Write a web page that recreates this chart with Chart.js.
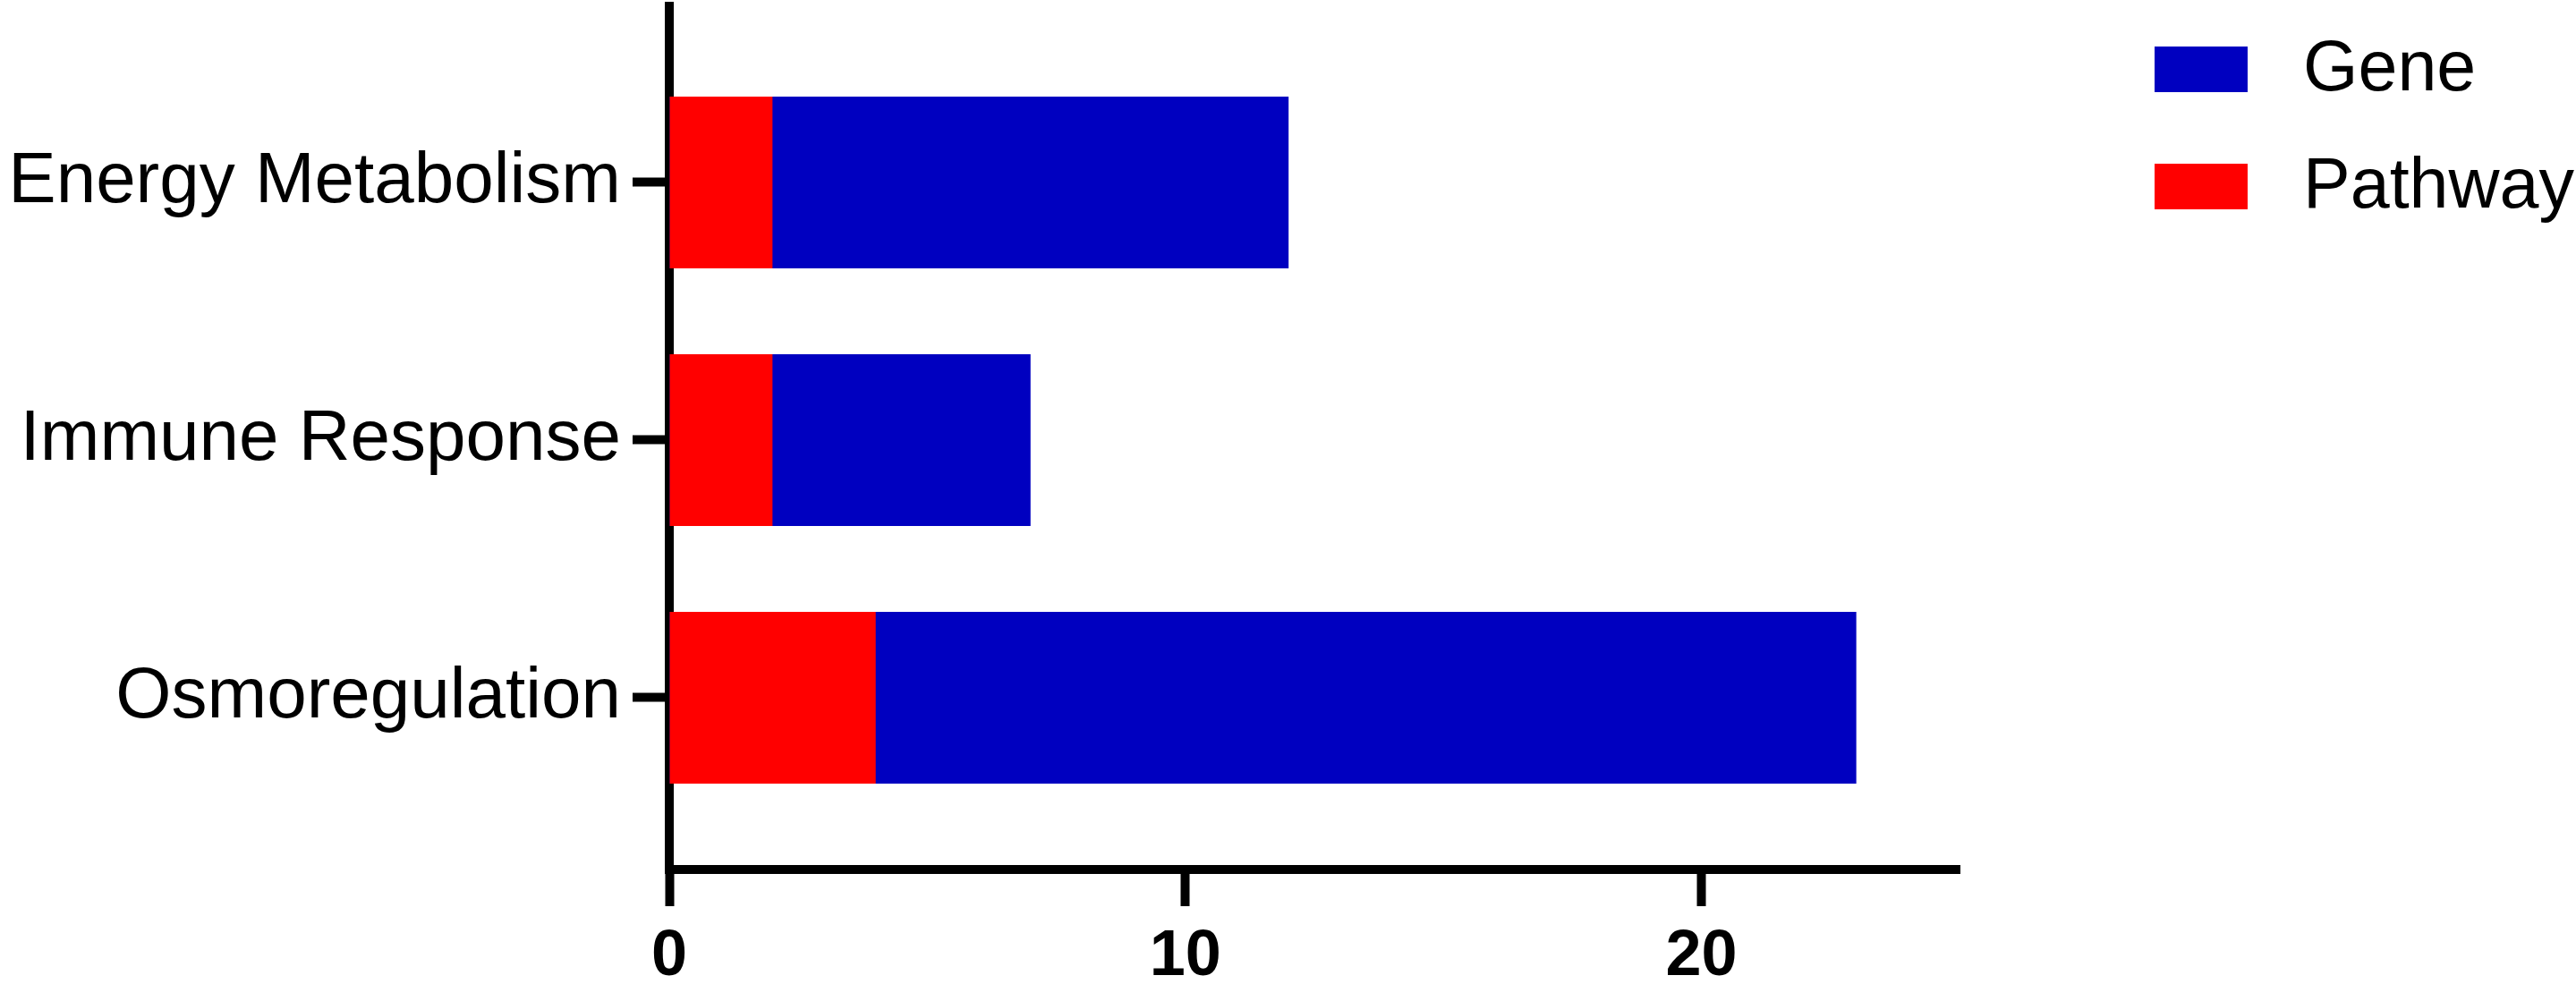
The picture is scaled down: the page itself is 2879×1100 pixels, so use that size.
<!DOCTYPE html>
<html>
<head>
<meta charset="utf-8">
<title>Gene / Pathway counts</title>
<script src="https://cdn.jsdelivr.net/npm/chart.js@4/dist/chart.umd.min.js"></script>
<style>
    html, body { margin: 0; padding: 0; background: #fff; }
    #chart-wrap { width: 2879px; height: 1100px; }
</style>
</head>
<body>
<div id="chart-wrap">
    <canvas id="mainChart" width="2879" height="1100"></canvas>
</div>
<script>
// values (top to bottom)
const categories = ['Energy Metabolism', 'Immune Response', 'Osmoregulation'];
const geneCounts = [12, 7, 23];
const pathwayCounts = [2, 2, 4];
const xTickValues = [0, 10, 20];
const xMax = 25;

const seriesNames = ['Gene', 'Pathway'];
const seriesColors = ['#0000C0', '#FF0000'];

const FONT = "'Liberation Sans', Arial, sans-serif";

document.addEventListener('DOMContentLoaded', () => {

    /* -------------------- DATA -------------------- */

    function toPoints(values) {
        return values.map((v, i) => ({ x: v, y: i }));
    }

    /* -------------------- LEGEND (drawn right of plot) -------------------- */

    const sideLegend = {
        id: 'sideLegend',
        afterDraw(chart) {
            const ctx = chart.ctx;
            const area = chart.chartArea;
            const boxLeft = area.right + 218;
            const textLeft = area.right + 384;
            ctx.save();
            ctx.font = '79px ' + FONT;
            ctx.textBaseline = 'middle';
            chart.data.datasets.forEach((ds, i) => {
                const cy = 77 + i * 131;
                ctx.fillStyle = ds.backgroundColor;
                ctx.fillRect(boxLeft, cy - 25, 104, 51);
                ctx.fillStyle = '#000';
                ctx.fillText(ds.label, textLeft, cy + 2);
            });
            ctx.restore();
        }
    };

    /* -------------------- CHART -------------------- */

    const canvas = document.getElementById('mainChart');

    new Chart(canvas, {
        type: 'bar',
        data: {
            datasets: [
                {
                    label: seriesNames[0],
                    data: toPoints(geneCounts),
                    backgroundColor: seriesColors[0],
                    order: 2
                },
                {
                    label: seriesNames[1],
                    data: toPoints(pathwayCounts),
                    backgroundColor: seriesColors[1],
                    order: 1
                }
            ]
        },
        options: {
            indexAxis: 'y',
            responsive: false,
            animation: false,
            grouped: false,
            categoryPercentage: 1,
            barPercentage: 0.667,
            layout: { padding: { top: 7, right: 689, left: 0, bottom: 0 } },
            plugins: {
                legend: { display: false },
                tooltip: { enabled: false }
            },
            scales: {
                y: {
                    type: 'linear',
                    reverse: true,
                    offset: false,
                    min: -0.684,
                    max: 2.667,
                    afterBuildTicks: axis => {
                        axis.ticks = categories.map((c, i) => ({ value: i }));
                    },
                    afterFit: axis => {
                        axis.width = 748;
                        axis.paddingTop = 0;
                        axis.paddingBottom = 0;
                    },
                    grid: {
                        offset: false,
                        drawOnChartArea: false,
                        drawTicks: true,
                        tickLength: 41,
                        tickWidth: 10,
                        tickColor: '#000'
                    },
                    border: { display: true, width: 10, color: '#000' },
                    ticks: {
                        padding: 13,
                        color: '#000',
                        font: { family: FONT, size: 80 },
                        callback: value => categories[value]
                    }
                },
                x: {
                    type: 'linear',
                    min: 0,
                    max: xMax,
                    afterBuildTicks: axis => {
                        axis.ticks = xTickValues.map(v => ({ value: v }));
                    },
                    afterFit: axis => {
                        axis.height = 128;
                    },
                    grid: {
                        drawOnChartArea: false,
                        drawTicks: true,
                        tickLength: 41,
                        tickWidth: 10,
                        tickColor: '#000'
                    },
                    border: { display: true, width: 10, color: '#000' },
                    ticks: {
                        padding: 14,
                        color: '#000',
                        maxRotation: 0,
                        font: { family: FONT, size: 72, weight: 'bold' }
                    }
                }
            }
        },
        plugins: [sideLegend]
    });
});
</script>
</body>
</html>
